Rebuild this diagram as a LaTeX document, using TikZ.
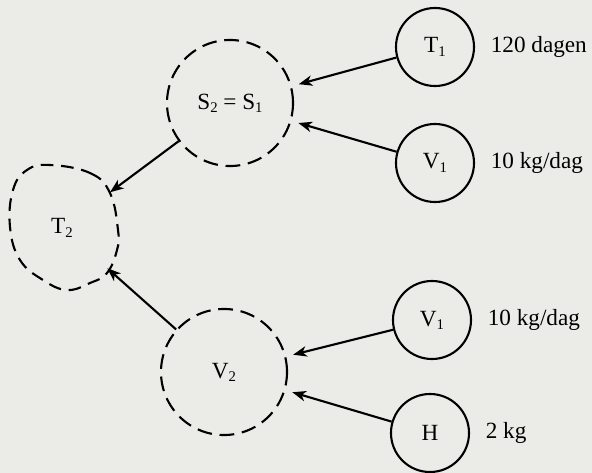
\documentclass[tikz,border=0pt]{standalone}
\usepackage{fontspec}
\setmainfont{Liberation Serif}
\usetikzlibrary{arrows.meta,positioning,shapes.geometric}

\definecolor{paper}{RGB}{235,235,231}
\newcommand{\idx}[1]{\raisebox{-0.3ex}{\fontsize{10.5}{12}\selectfont #1}}

\begin{document}
\begin{tikzpicture}[
  x=0.025cm,
  y=-0.025cm,
  font=\fontsize{16.5}{19}\selectfont,
  >={Stealth[length=3.4mm,width=2.6mm,inset=1mm]},
  line width=1.5pt,
  node distance=2.5mm,
  line/.style={->},
  gap/.style={->, shorten >=1.8mm},
  source/.style={
    draw,
    circle,
    minimum size=1.95cm,
    inner sep=0pt
  },
  pool/.style={
    draw,
    circle,
    dash pattern=on 10.5pt off 5.5pt,
    minimum size=3.15cm,
    inner sep=0pt
  },
  blob/.style={
    dash pattern=on 9pt off 5.5pt
  }
]

\fill[paper] (0,0) rectangle (592,473);
\useasboundingbox (0,0) rectangle (592,473);

\node[source] (T1) at (435,47) {T\idx{1}};
\node[right=of T1] (T1lab) {120 dagen};

\node[source] (V1a) at (435,163) {V\idx{1}};
\node[right=of V1a] (V1alab) {10 kg/dag};

\node[pool] (S) at (230,103) {S\idx{2} = S\idx{1}};

\node[ellipse, minimum width=2.8cm, minimum height=3.25cm] (T2) at (62,228) {T\idx{2}};
\begin{scope}[shift={(T2.center)}]
  \draw[blob] plot[smooth cycle, tension=0.7] coordinates {
    (-12,-63) (28,-55) (48,-35) (56,2) (55,22) (45,45) (28,55)
    (5,62) (-19,52) (-42,32) (-52,-1) (-49,-38) (-35,-58)};
\end{scope}

\node[pool] (V2) at (224,372) {V\idx{2}};

\node[source] (V1b) at (432,320) {V\idx{1}};
\node[right=of V1b] (V1blab) {10 kg/dag};

\node[source] (H) at (430,433) {H};
\node[right=of H] (Hlab) {2 kg};

\draw[gap] (T1) -- (S);
\draw[gap] (V1a) -- (S);
\draw[line] (S) -- (T2);
\draw[line] (V2) -- (T2);
\draw[gap] (V1b) -- (V2);
\draw[gap] (H) -- (V2);

\end{tikzpicture}
\end{document}
